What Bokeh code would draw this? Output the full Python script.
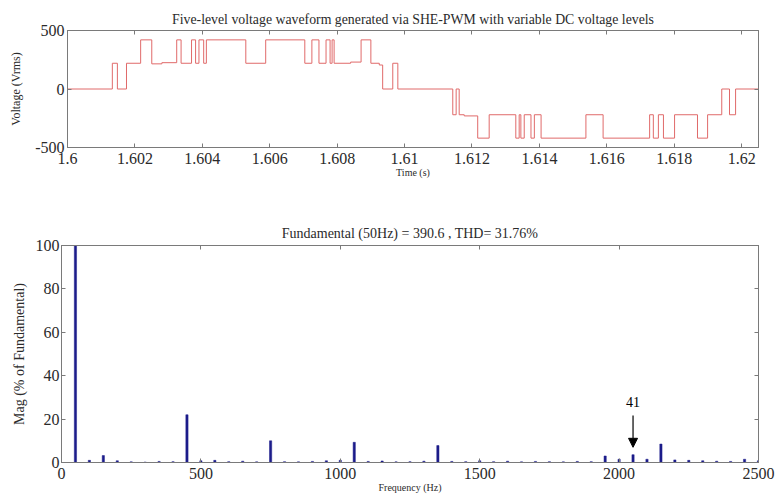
from bokeh.plotting import figure
from bokeh.models import FixedTicker, LinearAxis, Range1d, Arrow, NormalHead, Label
from bokeh.embed import file_html
from bokeh.resources import INLINE

# ---------------- data ----------------
# output voltage waveform: switching instants (ms after 1.6 s) and level after each instant (V)
switch_ms = [0.00, 1.33, 1.48, 1.75, 2.17, 2.50, 2.80, 3.24, 3.37, 3.68, 3.80, 3.90, 4.04, 4.12,
             5.29, 5.88, 7.04, 7.25, 7.46, 7.67, 7.79, 7.85, 7.91, 8.40, 8.71, 9.00, 9.25, 9.35,
             9.65, 9.80, 11.43, 11.53, 11.62, 11.77, 12.17, 12.51, 13.30, 13.40, 13.45, 13.55,
             13.75, 13.85, 14.05, 15.38, 15.89, 17.27, 17.38, 17.53, 17.68, 18.01, 18.69, 18.99,
             19.41, 19.64, 19.82, 20.53]
level_v = [0, 220, 0, 220, 420, 215, 225, 420, 220, 420, 220, 420, 220, 420,
           220, 420, 220, 420, 220, 420, 220, 420, 220, 230, 420, 220, 205, 0,
           220, 0, -220, 0, -220, -230, -420, -220, -420, -220, -420, -220,
           -420, -220, -420, -220, -420, -220, -420, -220, -420, -220, -420, -220,
           0, -220, 0, 0]
time_s = [1.6 + m / 1000.0 for m in switch_ms]

time_ticks = [1.6, 1.602, 1.604, 1.606, 1.608, 1.61, 1.612, 1.614, 1.616, 1.618, 1.62]
time_labels = ["1.6", "1.602", "1.604", "1.606", "1.608", "1.61", "1.612", "1.614", "1.616", "1.618", "1.62"]
volt_ticks = [-500, 0, 500]
volt_labels = ["-500", "0", "500"]

# harmonic spectrum (% of fundamental)
freq_hz = [50, 100, 150, 200, 250, 300, 350, 400, 450, 500,
           550, 600, 650, 700, 750, 800, 850, 900, 950, 1000,
           1050, 1100, 1150, 1200, 1250, 1300, 1350, 1400, 1450, 1500,
           1550, 1600, 1650, 1700, 1750, 1800, 1850, 1900, 1950, 2000,
           2050, 2100, 2150, 2200, 2250, 2300, 2350, 2400, 2450, 2500]
mag_pct = [100, 1.0, 3.2, 0.8, 0.3, 0.2, 0.5, 0.4, 22, 0.8,
           1.0, 0.4, 0.6, 0.3, 10, 0.4, 0.3, 0.5, 0.8, 1.0,
           9.3, 0.5, 0.7, 0.3, 0.4, 0.6, 7.8, 0.5, 0.4, 0.8,
           0.4, 0.6, 0.3, 0.5, 0.4, 0.3, 0.5, 0.4, 3.0, 1.5,
           3.6, 1.5, 8.5, 1.2, 1.0, 0.8, 0.6, 0.5, 1.5, 0.8]
freq_ticks = [0, 500, 1000, 1500, 2000, 2500]
mag_ticks = [0, 20, 40, 60, 80, 100]

top_title = "Five-level voltage waveform generated via SHE-PWM with variable DC voltage levels"
bottom_title = "Fundamental (50Hz) = 390.6 , THD= 31.76%"
marked_order = "41"
marked_freq = 2050

FONT = "Liberation Serif"
FRAME = "#7a7a7a"
TXT = "#2a2a2a"


def style(p, xlabel, ylabel, xt, yt, xlab=None, ylab=None):
    p.grid.visible = False
    p.outline_line_color = FRAME
    p.outline_line_width = 1
    p.background_fill_color = "white"
    p.border_fill_color = "white"
    p.title.align = "center"
    p.title.text_font = FONT
    p.title.text_font_style = "normal"
    p.title.text_color = TXT
    for ax in (p.xaxis[0], p.yaxis[0]):
        ax.axis_line_color = FRAME
        ax.major_tick_line_color = FRAME
        ax.major_tick_in = 4
        ax.major_tick_out = 0
        ax.minor_tick_line_color = None
        ax.major_label_text_font = FONT
        ax.major_label_text_font_size = "16px"
        ax.major_label_text_color = TXT
        ax.axis_label_text_font = FONT
        ax.axis_label_text_font_style = "normal"
        ax.axis_label_text_color = TXT
    p.xaxis[0].ticker = FixedTicker(ticks=xt)
    p.yaxis[0].ticker = FixedTicker(ticks=yt)
    if xlab:
        p.xaxis[0].major_label_overrides = dict(zip(xt, xlab))
    if ylab:
        p.yaxis[0].major_label_overrides = dict(zip(yt, ylab))
    p.xaxis[0].axis_label = xlabel
    p.yaxis[0].axis_label = ylabel
    p.xaxis[0].axis_label_text_font_size = "10px"
    p.xaxis[0].axis_label_standoff = 0
    # mirrored inward ticks on top and right (no labels)
    for loc, tk in (("above", xt), ("right", yt)):
        ax = LinearAxis(ticker=FixedTicker(ticks=tk), major_label_text_font_size="0px",
                        major_label_text_color=None,
                        major_tick_in=4, major_tick_out=0, major_label_standoff=0,
                        minor_tick_line_color=None, axis_line_color=FRAME,
                        major_tick_line_color=FRAME)
        p.add_layout(ax, loc)


# ---------------- top: waveform ----------------
p1 = figure(width=777, height=182,
            x_range=Range1d(1.6, 1.6205), y_range=Range1d(-500, 500),
            min_border_left=67, min_border_right=19, min_border_top=30, min_border_bottom=35,
            output_backend="svg", toolbar_location=None, title=top_title)
p1.step(time_s, level_v, mode="after", line_color="#e06a6a", line_width=1)
style(p1, "Time (s)", "Voltage (Vrms)", time_ticks, volt_ticks, time_labels, volt_labels)
p1.xaxis[0].major_label_standoff = 4
p1.yaxis[0].major_label_standoff = 3
p1.yaxis[0].axis_label_standoff = 9
p1.yaxis[0].axis_label_text_font_size = "12px"
p1.title.text_font_size = "13.8px"
p1.title.standoff = 8

# ---------------- bottom: spectrum ----------------
p2 = figure(width=777, height=315,
            x_range=Range1d(0, 2500), y_range=Range1d(0, 100),
            min_border_left=61, min_border_right=19, min_border_top=63, min_border_bottom=35,
            output_backend="svg", toolbar_location=None, title=bottom_title)
p2.vbar(x=freq_hz, top=mag_pct, bottom=0, width=8, fill_color="#1c1c8a", line_color="#1c1c8a",
        line_width=0.5)
style(p2, "Frequency (Hz)", "Mag (% of Fundamental)", freq_ticks, mag_ticks)
p2.xaxis[0].major_label_standoff = 1
p2.xaxis[0].axis_label_standoff = 3
p2.yaxis[0].major_label_standoff = 2
p2.yaxis[0].axis_label_standoff = 6
p2.yaxis[0].axis_label_text_font_size = "14px"
p2.title.text_font_size = "14px"
p2.title.standoff = 9

p2.add_layout(Arrow(end=NormalHead(size=9, fill_color="black", line_color="black"),
                    x_start=marked_freq, y_start=21.7, x_end=marked_freq, y_end=7.0,
                    line_color="black", line_width=1.2))
p2.add_layout(Label(x=marked_freq, y=27.8, text=marked_order, text_align="center",
                    text_baseline="middle", text_font=FONT, text_font_size="14px",
                    text_color="black"))

# two independent roots stacked on the page (keeps each frame at its own left edge)
open("out.html", "w").write(file_html([p1, p2], INLINE))
